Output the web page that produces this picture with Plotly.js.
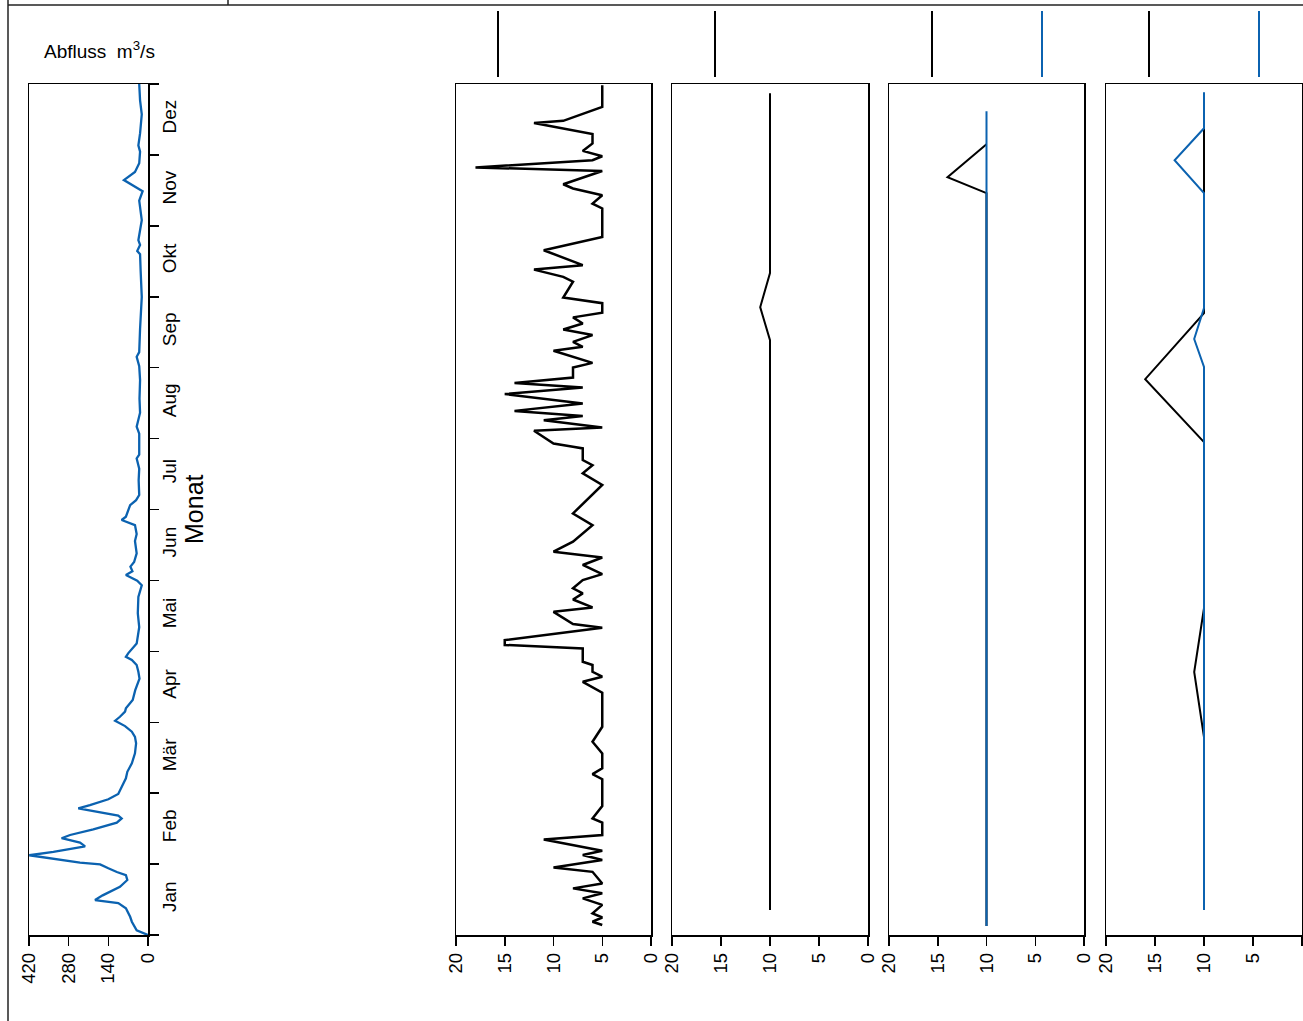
<!DOCTYPE html>
<html>
<head>
<meta charset="utf-8">
<script src="https://cdn.plot.ly/plotly-3.0.1.min.js"></script>
<style>html,body{margin:0;padding:0;background:#fff;}#chart{width:1303px;height:1021px;}</style>
</head>
<body>
<div id="chart"></div>
<script>
// ---- Data (day of year, value) ----
const monthLabels = ["Jan","Feb","Mär","Apr","Mai","Jun","Jul","Aug","Sep","Okt","Nov","Dez"];
const dischargeTicks = [420, 280, 140, 0];
const smallTicks = [20, 15, 10, 5, 0];

// Panel 1: Abfluss (m³/s)
const flowDays = [0,2,5.7,7.8,11.5,13.7,15,17,20.7,23.6,25.7,27,28.6,30.3,31,32.4,34.2,35.7,37.2,38,39.6,41.5,42.9,45.3,48.2,50,51.2,52.9,54.3,55.7,58.2,60.5,63.3,67.2,70,73.6,77.9,82.2,85,87.2,89.6,91.5,91.9,93.6,95.8,97.2,99.3,100.8,105,110,112.9,115.8,118,119.3,120.8,125,132,138,145,150,152,153.6,154.4,156,158,160,163.7,169,172,175.8,177.2,178,179.4,184.4,186.5,188.7,195,200,204.4,206,215,218,224,230,238,244,248,250,260,273.7,285,292,293.4,296,298,306.6,315,319,323.8,327.3,331,336,338.7,343.8,352,358,365];
const flowValues = [0,40,57,63,78,105,187,160,99,73,78,110,140,169,240,311,419,334,264,222,240,305,275,193,110,93,105,181,246,205,140,105,93,78,73,57,46,42,46,57,81,110,116,99,81,78,63,54,45,30,34,40,57,78,70,40,31,36,34,22,38,66,78,55,62,49,40,46,40,46,81,93,78,63,42,31,33,31,40,31,31,40,28,30,28,31,40,31,28,22,26,28,38,28,34,22,31,19,85,46,31,28,34,28,22,28,31];

// Panel 2
const p2Days = [4.3,5.7,7.5,9.3,12.9,15.7,17.9,20,22.1,27.1,29,32.2,34.3,36.1,41,42.9,48.2,50,55.3,66.8,69,71.5,77.9,82.9,89.3,103.9,108.6,110.8,112.9,115.8,117.2,122.9,124.4,126.5,131.8,133.4,138.6,140.5,143.9,146.5,148.7,152.2,154.8,158.7,161.9,164.4,168.7,175.8,180.8,193,198,201.5,203.7,208.7,209.4,210.8,216.3,217.7,220.8,222.6,224.8,228,232,234.8,236.8,239.1,243.4,245.4,250.6,252.3,254.4,257.3,259.7,262.3,264.9,266.9,271,271.6,273.4,280.2,282.3,285.4,287.3,293.7,299.4,311.6,313.7,317.3,320.2,322,327.7,329.2,332.3,334,336.3,339.5,343.5,348.3,349.2,355.2,364.5];
const p2Values = [5,6,5,6,5,7,5,8,5,6,10,5,7,5,11,5,5,6,5,5,6,5,5,6,5,5,7,5,6,6,7,7,15,15,5,8,10,6,8,7,8,7,5,7,5,10,8,6,8,5,7,6,7,7,8,10,12,5,11,7,14,7,15,7,14,8,8,6,10,7,8,6,9,7,8,5,5,6,9,8,9,12,7,11,5,5,6,5,8,9,5,18,6,5,7,6,6,12,9,5,5];

// Panel 3
const p3Days = [10.7,255.1,269.3,283.9,361];
const p3Values = [10,10,11,10,10];

// Panel 4
const p4BlackDays = [3.9,318.2,325,339.2];
const p4BlackValues = [10,10,14,10];
const p4BlueDays = [3.9,353.3];
const p4BlueValues = [10,10];

// Panel 5
const p5BlackDays = [10.7,84.9,112.8,140.2,211.4,238.4,266.7,346];
const p5BlackValues = [10,10,11,10,10,16,10,10];
const p5BlueDays = [10.7,243.6,255.6,268.9,318.2,332.3,346,361.5];
const p5BlueValues = [10,10,11,10,10,13,10,10];

// ---- Layout helpers ----
const W = 1303, H = 1021;
const px = x => x / W;
const py = y => 1 - y / H;
const BLUE = "#0b62b0";
const FONT = "Liberation Sans, Arial, Helvetica, sans-serif";
const yDom = [py(935), py(84)];
const monthStarts = monthLabels.map((m, i) => i * 365 / 12).concat([365]);
const monthMids = monthLabels.map((m, i) => (i + 0.5) * 365 / 12);

function xAxis(dom, range, ticks, anchor) {
  return {
    domain: dom, range: range, anchor: anchor,
    tickmode: "array", tickvals: ticks, ticktext: ticks.map(String),
    ticks: "outside", ticklen: 9, tickwidth: 1.5, tickcolor: "#000",
    showline: true, mirror: true, linecolor: "#000", linewidth: 1.5,
    showgrid: false, zeroline: false, tickangle: -90,
    tickfont: {family: FONT, size: 18.5, color: "#000"}, fixedrange: true
  };
}
function yAxis(anchor) {
  return {
    domain: yDom, range: [0, 365], anchor: anchor,
    showline: true, mirror: true, linecolor: "#000", linewidth: 1.5,
    showgrid: false, zeroline: false, showticklabels: false, ticks: "", fixedrange: true
  };
}

const traces = [
  {x: flowValues, y: flowDays, xaxis: "x", yaxis: "y", mode: "lines", line: {color: BLUE, width: 2.3}},
  {x: p2Values, y: p2Days, xaxis: "x2", yaxis: "y2", mode: "lines", line: {color: "#000", width: 2.5}},
  {x: p3Values, y: p3Days, xaxis: "x3", yaxis: "y3", mode: "lines", line: {color: "#000", width: 2}},
  {x: p4BlackValues, y: p4BlackDays, xaxis: "x4", yaxis: "y4", mode: "lines", line: {color: "#000", width: 2}},
  {x: p4BlueValues, y: p4BlueDays, xaxis: "x4", yaxis: "y4", mode: "lines", line: {color: BLUE, width: 2}},
  {x: p5BlackValues, y: p5BlackDays, xaxis: "x5", yaxis: "y5", mode: "lines", line: {color: "#000", width: 2}},
  {x: p5BlueValues, y: p5BlueDays, xaxis: "x5", yaxis: "y5", mode: "lines", line: {color: BLUE, width: 2}}
];

function seg(x0, y0, x1, y1, color, w) {
  return {type: "line", xref: "paper", yref: "paper", x0: px(x0), y0: py(y0), x1: px(x1), y1: py(y1),
          line: {color: color, width: w}};
}

const layout = {
  width: W, height: H,
  margin: {l: 0, r: 0, t: 0, b: 0, pad: 0},
  paper_bgcolor: "#fff", plot_bgcolor: "rgba(0,0,0,0)",
  showlegend: false,
  font: {family: FONT, color: "#000"},
  xaxis: xAxis([px(29), px(148)], [420, 0], dischargeTicks, "y"),
  yaxis: {
    domain: yDom, range: [0, 365], anchor: "x", side: "right",
    showline: true, mirror: true, linecolor: "#000", linewidth: 1.5,
    showgrid: false, zeroline: false, fixedrange: true,
    tickmode: "array", tickvals: monthMids, ticktext: monthLabels,
    ticks: "", tickangle: -90, ticklabelstandoff: 4,
    tickfont: {family: FONT, size: 19, color: "#000"},
    minor: {tickmode: "array", tickvals: monthStarts, ticks: "outside", ticklen: 9, tickwidth: 1.5, tickcolor: "#000", showgrid: false}
  },
  xaxis2: xAxis([px(456), px(651)], [20, 0], smallTicks, "y2"),
  yaxis2: yAxis("x2"),
  xaxis3: xAxis([px(672), px(868)], [20, 0], smallTicks, "y3"),
  yaxis3: yAxis("x3"),
  xaxis4: xAxis([px(889), px(1084)], [20, 0], smallTicks, "y4"),
  yaxis4: yAxis("x4"),
  xaxis5: xAxis([px(1106), px(1302)], [20, 0], smallTicks, "y5"),
  yaxis5: yAxis("x5"),
  annotations: [
    {xref: "paper", yref: "paper", x: px(42), y: py(50), xanchor: "left", yanchor: "middle",
     text: "Abfluss\u00a0\u00a0m<sup>3</sup>/s", showarrow: false, font: {family: FONT, size: 19, color: "#000"}},
    {xref: "paper", yref: "paper", x: px(194), y: py(509), xanchor: "center", yanchor: "middle",
     text: "Monat", textangle: -90, showarrow: false, font: {family: FONT, size: 25, color: "#000"}}
  ],
  shapes: [
    seg(8, 5, 1303, 5, "#222", 1.5),
    seg(8, 0, 8, 1021, "#222", 1.5),
    seg(228, 0, 228, 5, "#222", 1.5),
    seg(498, 11, 498, 77, "#000", 2),
    seg(715, 11, 715, 77, "#000", 2),
    seg(932, 11, 932, 77, "#000", 2),
    seg(1042, 11, 1042, 77, BLUE, 2),
    seg(1149, 11, 1149, 77, "#000", 2),
    seg(1259, 11, 1259, 77, BLUE, 2)
  ]
};

Plotly.newPlot("chart", traces, layout, {staticPlot: true, displayModeBar: false});
</script>
</body>
</html>
